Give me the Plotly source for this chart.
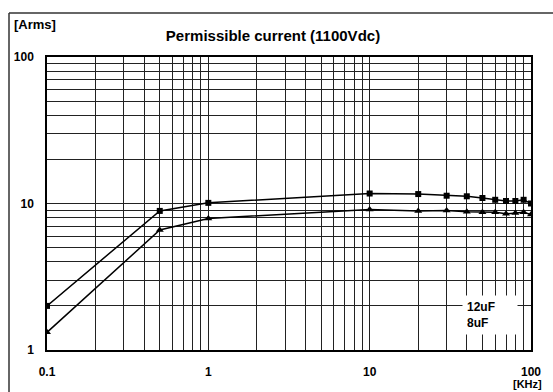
import plotly.graph_objects as go

freq_khz = [0.1, 0.5, 1, 10, 20, 30, 40, 50, 60, 70, 80, 90, 100]
current_12uf = [2.0, 8.9, 10.1, 11.7, 11.6, 11.3, 11.2, 10.9, 10.6, 10.4, 10.4, 10.6, 10.0]
current_8uf = [1.32, 6.6, 7.9, 9.1, 8.9, 8.95, 8.8, 8.7, 8.7, 8.5, 8.6, 8.7, 8.4]

x_grid = [m * 10 ** e for e in (-1, 0, 1) for m in range(1, 10)] + [100]
x_labels = {0.1: "0.1", 1: "1", 10: "10", 100: "100"}
y_grid = [m * 10 ** e for e in (0, 1) for m in range(1, 10)] + [100]
y_labels = {1: "1", 10: "10", 100: "100"}

FONT = "Liberation Sans, Arial, sans-serif"

fig = go.Figure()
fig.add_trace(go.Scatter(x=freq_khz, y=current_12uf, mode="lines+markers", name="12uF",
                         line=dict(color="black", width=1.5),
                         marker=dict(symbol="square", size=6, color="black")))
fig.add_trace(go.Scatter(x=freq_khz, y=current_8uf, mode="lines+markers", name="8uF",
                         line=dict(color="black", width=1.5),
                         marker=dict(symbol="triangle-up", size=7, color="black")))

fig.update_layout(
    width=553, height=392,
    margin=dict(l=47, r=22, t=57, b=42),
    paper_bgcolor="white", plot_bgcolor="white",
    showlegend=False,
    font=dict(family=FONT, color="black"),
    title=dict(text="<b>Permissible current (1100Vdc)</b>", x=273 / 553, y=1 - 36 / 392,
               xanchor="center", yanchor="middle", font=dict(size=15, family=FONT)),
)

fig.update_xaxes(type="log", range=[-1, 2], tickmode="array", tickvals=x_grid,
                 ticktext=[x_labels.get(v, "") for v in x_grid],
                 showgrid=True, gridcolor="#222", gridwidth=1,
                 showline=True, linecolor="black", linewidth=1.5, mirror=True,
                 ticks="", ticklabelstandoff=10,
                 tickfont=dict(size=12, family=FONT, weight="bold"), zeroline=False)
fig.update_yaxes(type="log", range=[0, 2], tickmode="array", tickvals=y_grid,
                 ticktext=[y_labels.get(v, "") for v in y_grid],
                 showgrid=True, gridcolor="#222", gridwidth=1,
                 showline=True, linecolor="black", linewidth=1.5, mirror=True,
                 ticks="", ticklabelstandoff=9,
                 tickfont=dict(size=12, family=FONT, weight="bold"), zeroline=False)

# outer frame: only left and top edges are visible in the image
fx0 = (9 - 47) / 484
fy1 = (350 - 13) / 293
fig.add_shape(type="line", xref="paper", yref="paper", x0=fx0, x1=fx0, y0=fy1, y1=(350 - 400) / 293,
              line=dict(color="#333", width=1.5), layer="below")
fig.add_shape(type="line", xref="paper", yref="paper", x0=fx0, x1=(560 - 47) / 484, y0=fy1, y1=fy1,
              line=dict(color="#333", width=1.5), layer="below")

fig.add_annotation(text="<b>[Arms]</b>", xref="paper", yref="paper",
                   x=(12 - 47) / 484, y=(350 - 24) / 293, xanchor="left", yanchor="middle",
                   showarrow=False, font=dict(size=13, family=FONT))
fig.add_annotation(text="<b>[KHz]</b>", xref="paper", yref="paper",
                   x=(527 - 47) / 484, y=(350 - 384) / 293, xanchor="center", yanchor="middle",
                   showarrow=False, font=dict(size=11, family=FONT))
fig.add_annotation(text="<b>12uF</b><br><b>8uF</b>", xref="paper", yref="paper",
                   x=(462 - 47) / 484, y=(350 - 295) / 293, xanchor="left", yanchor="top",
                   showarrow=False, align="left", bgcolor="white", borderpad=4,
                   font=dict(size=12, family=FONT), width=46)

fig.write_html("out.html")
